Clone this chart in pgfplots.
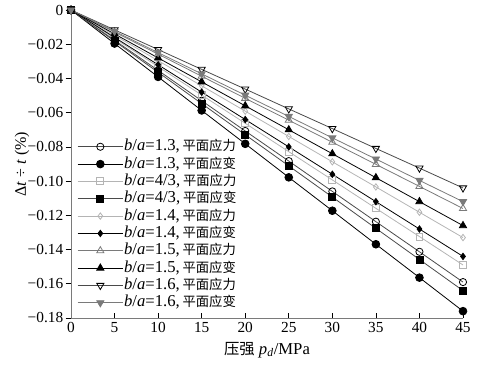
\documentclass[border=0pt]{standalone}
\usepackage{pgfplots}
\pgfplotsset{compat=1.18}
\usepackage{fontspec}
\setmainfont{Liberation Serif}
\newfontfamily\cjk{Noto Sans CJK SC}
\definecolor{dgray}{HTML}{4A4A4A}
\definecolor{mgray}{HTML}{7A7A7A}
\definecolor{lgray}{HTML}{B4B4B4}
\newcommand{\ba}[2]{\textit{b}/\textit{a}=#1,\,{\cjk\fontsize{10}{10}\selectfont 平面#2}}
\begin{document}
\begin{tikzpicture}
\begin{axis}[
  scale only axis,
  width=294pt, height=231pt,
  xmin=0, xmax=45, ymin=-0.18, ymax=0,
  axis lines=left,
  axis line style={-, mgray, line width=0.7pt},
  tick align=inside,
  tick style={black, line width=0.5pt},
  major tick length=4pt,
  y tick style={xshift=-4pt},
  xtick={0,5,10,15,20,25,30,35,40,45},
  ytick={0,-0.02,-0.04,-0.06,-0.08,-0.1,-0.12,-0.14,-0.16,-0.18},
  yticklabels={0,−0.02,−0.04,−0.06,−0.08,−0.10,−0.12,−0.14,−0.16,−0.18},
  /pgf/number format/assume math mode=true,
  ticklabel style={font=\fontsize{11.5}{12}\selectfont},
  yticklabel style={xshift=-2.3pt},
  xlabel={{\cjk\fontsize{11.5}{12}\selectfont 压强} \textit{p}\textsubscript{\textit{d}}/MPa},
  ylabel={Δ\textit{t} ÷ \textit{t} (\%)},
  every axis x label/.style={at={(axis description cs:0.5,-0.104)}, anchor=center, font=\fontsize{12.5}{13}\selectfont},
  every axis y label/.style={at={(axis description cs:-0.125,0.5)}, rotate=90, anchor=center, font=\fontsize{12}{13}\selectfont},
  clip=false,
  legend cell align=left,
  legend style={at={(axis description cs:0.0153,0.585)}, anchor=north west, draw=none, fill=white,
    font=\fontsize{12.5}{12.5}\selectfont, row sep=0pt, inner sep=0pt,
    nodes={inner sep=0.5pt, text height=9pt, text depth=3pt}},
  legend image code/.code={\draw[mark repeat=2, mark phase=2] plot coordinates {(0pt,0pt) (17pt,0pt) (34pt,0pt)};},
  every axis plot/.append style={line width=0.6pt},
]
\coordinate (SW) at (rel axis cs:0,0);
\coordinate (NE) at (rel axis cs:1,1);
\addplot[dgray, mark=o, mark size=2.7pt, mark options={black, fill=white, line width=0.6pt}] coordinates {
(0,0) (5,-0.0177) (10,-0.0353) (15,-0.0530) (20,-0.0707) (25,-0.0883) (30,-0.1060) (35,-0.1237) (40,-0.1413) (45,-0.159)};
\addlegendentry{\ba{1.3}{应力}}
\addplot[black, mark=*, mark size=2.9pt, mark options={black}] coordinates {
(0,0) (5,-0.0196) (10,-0.0391) (15,-0.0587) (20,-0.0782) (25,-0.0978) (30,-0.1173) (35,-0.1369) (40,-0.1564) (45,-0.176)};
\addlegendentry{\ba{1.3}{应变}}
\addplot[lgray, mark=square, mark size=2.6pt, mark options={lgray, fill=white, line width=0.7pt}] coordinates {
(0,0) (5,-0.0166) (10,-0.0331) (15,-0.0497) (20,-0.0662) (25,-0.0828) (30,-0.0993) (35,-0.1159) (40,-0.1324) (45,-0.149)};
\addlegendentry{\ba{4/3}{应力}}
\addplot[dgray, mark=square*, mark size=2.6pt, mark options={black}] coordinates {
(0,0) (5,-0.0182) (10,-0.0364) (15,-0.0547) (20,-0.0729) (25,-0.0911) (30,-0.1093) (35,-0.1276) (40,-0.1458) (45,-0.164)};
\addlegendentry{\ba{4/3}{应变}}
\addplot[lgray, mark=diamond, mark size=2.4pt, mark options={lgray, fill=white, line width=0.6pt}] coordinates {
(0,0) (5,-0.0148) (10,-0.0296) (15,-0.0443) (20,-0.0591) (25,-0.0739) (30,-0.0887) (35,-0.1034) (40,-0.1182) (45,-0.133)};
\addlegendentry{\ba{1.4}{应力}}
\addplot[black, mark=diamond*, mark size=2.4pt, mark options={black}] coordinates {
(0,0) (5,-0.0160) (10,-0.0320) (15,-0.0480) (20,-0.0640) (25,-0.0800) (30,-0.0960) (35,-0.1120) (40,-0.1280) (45,-0.144)};
\addlegendentry{\ba{1.4}{应变}}
\addplot[mgray, mark=triangle, mark size=3.1pt, mark options={mgray, fill=white, line width=0.6pt}] coordinates {
(0,0) (5,-0.0129) (10,-0.0258) (15,-0.0387) (20,-0.0516) (25,-0.0644) (30,-0.0773) (35,-0.0902) (40,-0.1031) (45,-0.116)};
\addlegendentry{\ba{1.5}{应力}}
\addplot[black, mark=triangle*, mark size=3.1pt, mark options={black}] coordinates {
(0,0) (5,-0.0140) (10,-0.0280) (15,-0.0420) (20,-0.0560) (25,-0.0700) (30,-0.0840) (35,-0.0980) (40,-0.1120) (45,-0.126)};
\addlegendentry{\ba{1.5}{应变}}
\addplot[dgray, mark=triangle, mark size=3.1pt, mark options={black, fill=white, rotate=180, line width=0.6pt}] coordinates {
(0,0) (5,-0.0116) (10,-0.0231) (15,-0.0347) (20,-0.0462) (25,-0.0578) (30,-0.0693) (35,-0.0809) (40,-0.0924) (45,-0.104)};
\addlegendentry{\ba{1.6}{应力}}
\addplot[mgray, mark=triangle*, mark size=3.1pt, mark options={mgray, rotate=180}] coordinates {
(0,0) (5,-0.0124) (10,-0.0249) (15,-0.0373) (20,-0.0498) (25,-0.0622) (30,-0.0747) (35,-0.0871) (40,-0.0996) (45,-0.112)};
\addlegendentry{\ba{1.6}{应变}}
\end{axis}
\pgfresetboundingbox
\path ([shift={(-53.25pt,-35.25pt)}]SW) rectangle ([shift={(13.5pt,7.5pt)}]NE);
\end{tikzpicture}
\end{document}
